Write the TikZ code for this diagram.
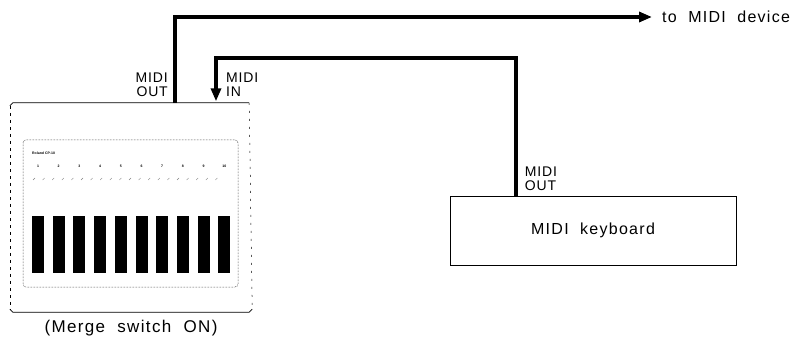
\documentclass[tikz,border=0pt]{standalone}
\usepackage{fontspec}
\setmainfont{Liberation Sans}
\newfontfamily\lblfont[LetterSpace=8,WordSpace=2]{Liberation Sans}
\newfontfamily\jackfont[LetterSpace=6]{Liberation Sans}
\usetikzlibrary{arrows.meta,positioning}

\tikzset{
	cable/.style={line width=3.8pt, -{Triangle[length=13pt,width=10pt]}},
	jacklabel/.style={font=\jackfont\fontsize{14}{14}\selectfont, inner sep=0pt, align=left},
	boxtext/.style={font=\lblfont\fontsize{16}{18}\selectfont},
	tinytext/.style={font=\bfseries\fontsize{3.5}{4}\selectfont, inner sep=0pt},
}

\begin{document}
\begin{tikzpicture}[x=1pt,y=-1pt]
\useasboundingbox (0,0) rectangle (796,342);

%define units
			\node[minimum width=242pt, minimum height=209pt, inner sep=0pt] (unit) at (131,207.5) {};
			\node[draw, densely dotted, line width=0.5pt, rounded corners=3pt, minimum width=215pt, minimum height=147pt, inner sep=0pt] (panel) at (130.5,213.5) {};
			\node[draw, line width=0.7pt, minimum width=286pt, minimum height=69pt, boxtext] (kbd) at (593,230.5) {MIDI keyboard};
			\node[boxtext, anchor=west, inner sep=10pt] (dev) at (652,17) {to MIDI device};

%define jacks
			\coordinate (outjack) at ([xshift=44pt]unit.north);
			\coordinate (injack) at ([xshift=85pt]unit.north);
			\coordinate (kbdout) at ([xshift=66pt]kbd.north west);

%draw frame of the unit
			\draw[line width=0.7pt] ([yshift=-3pt]unit.north west) -- ([xshift=3pt]unit.north west) -- ([xshift=-3pt]unit.north east);
			\draw[line width=0.7pt] ([yshift=3pt]unit.south west) -- ([xshift=3pt]unit.south west) -- ([xshift=-3pt]unit.south east) -- ([yshift=3pt]unit.south east);
			\draw[line width=0.5pt, dash pattern=on 3pt off 4pt] ([yshift=-3pt]unit.north west) -- ([yshift=3pt]unit.south west);
			\draw[line width=0.5pt, dash pattern=on 2pt off 6pt] ([xshift=-3pt]unit.north east) -- ([yshift=3pt]unit.south east);

%draw panel
			\node[tinytext, anchor=west] (brand) at (32,153) {Roland CP-10};
			\foreach \n [count=\i from 0] in {1,...,10}
				\node[tinytext] (num\n) at (38+\i*20.7,166) {\n};
			\foreach \i in {0,...,19}
				\draw[gray, line width=0.4pt] (33+\i*9.6,180) -- ++(2,-2);
			\foreach \i in {0,...,9}
				\fill (32+\i*20.7,216) rectangle ++(12,57);

%draw cables
			\draw[cable] (outjack) |- (dev.west);
			\draw[cable, shorten >=1.5pt] (kbdout) -- ++(0,-138) -| (injack);

%draw labels
			\node[jacklabel, align=right, above left=6pt and 7pt of outjack] (outlbl) {MIDI\\OUT};
			\node[jacklabel, above right=6pt and 10pt of injack] (inlbl) {MIDI\\IN};
			\node[jacklabel, above right=5pt and 9pt of kbdout] (kbdlbl) {MIDI\\OUT};
			\node[boxtext, font=\lblfont\fontsize{17}{19}\selectfont, below=4pt of unit] (caption) {(Merge switch ON)};

		\end{tikzpicture}
\end{document}
